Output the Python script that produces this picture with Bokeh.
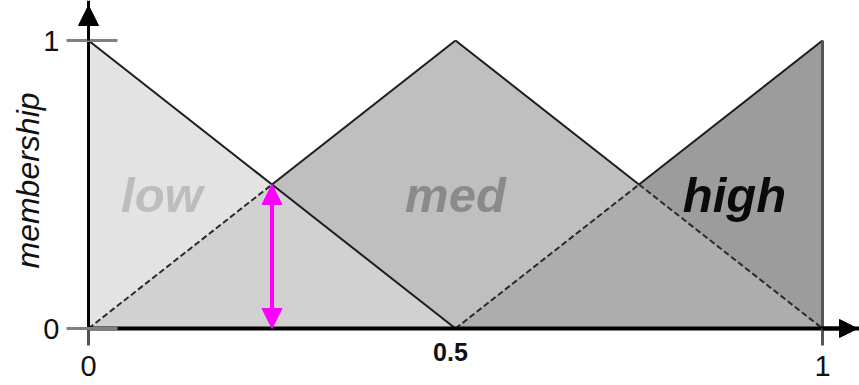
import numpy as np
from bokeh.plotting import figure
from bokeh.models import Range1d, FixedTicker, Arrow, NormalHead, Label, ColumnDataSource
from bokeh.core.properties import value
from bokeh.embed import file_html
from bokeh.resources import INLINE

# ---- data ----
x_points = [0.0, 0.25, 0.5, 0.75, 1.0]
low_break_x = [0.0, 0.5, 1.0]
low_break_y = [1.0, 0.0, 0.0]
med_break_x = [0.0, 0.5, 1.0]
med_break_y = [0.0, 1.0, 0.0]
high_break_x = [0.0, 0.5, 1.0]
high_break_y = [0.0, 0.0, 1.0]
set_names = ["low", "med", "high"]
arrow_x = 0.25
y_ticks = [0, 1]
x_ticks = [0, 1]
x_mid_tick = 0.5

xg = np.array(x_points)
low = np.interp(xg, low_break_x, low_break_y)
med = np.interp(xg, med_break_x, med_break_y)
high = np.interp(xg, high_break_x, high_break_y)
low_med = np.minimum(low, med)
med_high = np.minimum(med, high)

# ---- styles / layout ----
FONT = "Liberation Sans"
W, H = 859, 385
X0_PX, Y0_PX = 88, 328          # pixel position of data origin
SX, SY = 734.0, 288.0           # pixels per data unit
fill_low, fill_med, fill_high = "#e3e3e3", "#bfbfbf", "#9c9c9c"
fill_low_med, fill_med_high = "#d1d1d1", "#adadad"
label_x = [0.10, 0.50, 0.88]
label_y = [0.462, 0.462, 0.462]
label_colors = ["#bdbdbd", "#8a8a8a", "#0a0a0a"]

x_lo, x_hi = -X0_PX / SX, (W - X0_PX) / SX
y_lo, y_hi = -(H - Y0_PX) / SY, Y0_PX / SY

p = figure(width=W, height=H, output_backend="svg", toolbar_location=None,
           x_range=Range1d(x_lo, x_hi), y_range=Range1d(y_lo, y_hi),
           min_border_left=0, min_border_right=0, min_border_top=0, min_border_bottom=0)
p.outline_line_color = None
p.xgrid.visible = False
p.ygrid.visible = False
p.background_fill_color = "white"

# fills
p.varea(x=xg, y1=0, y2=low, fill_color=fill_low)
p.varea(x=xg, y1=0, y2=med, fill_color=fill_med)
p.varea(x=xg, y1=0, y2=high, fill_color=fill_high)
p.varea(x=xg, y1=0, y2=low_med, fill_color=fill_low_med)
p.varea(x=xg, y1=0, y2=med_high, fill_color=fill_med_high)

# outlines: solid where on top, dashed where hidden under another set
def segs(vals, others, masked=True):
    top = vals >= np.maximum.reduce(others) - 1e-9 if masked else np.ones_like(vals, bool)
    solid, dashed = [], []
    for i in range(len(vals) - 1):
        if vals[i] == 0 and vals[i + 1] == 0:
            continue
        seg = (xg[i], vals[i], xg[i + 1], vals[i + 1])
        (solid if (top[i] and top[i + 1]) else dashed).append(seg)
    return solid, dashed

all_solid, all_dashed = [], []
s, d = segs(low, [med, high], masked=False); all_solid += s; all_dashed += d
s, d = segs(med, [low, high]); all_solid += s; all_dashed += d
s, d = segs(high, [low, med]); all_solid += s; all_dashed += d

def seg_source(lst):
    a = np.array(lst)
    return ColumnDataSource(dict(x0=a[:, 0], y0=a[:, 1], x1=a[:, 2], y1=a[:, 3]))

p.segment("x0", "y0", "x1", "y1", source=seg_source(all_solid), line_color="#1c1c1c", line_width=2)
p.segment("x0", "y0", "x1", "y1", source=seg_source(all_dashed), line_color="#2a2a2a", line_width=2,
          line_dash="6 3")
# right edge of "high"
p.segment(x0=[xg[-1]], y0=[0], x1=[xg[-1]], y1=[high[-1]], line_color="#555555", line_width=3)

# set labels
p.text(x=label_x, y=label_y, text=set_names, text_color=label_colors,
       text_font=value(FONT), text_font_style="bold italic", text_font_size="49px",
       text_align="center", text_baseline="alphabetic")

# magenta membership arrow
arrow_y = float(np.interp(arrow_x, xg, low))
p.add_layout(Arrow(start=NormalHead(size=20, fill_color="#ff00ff", line_color="#ff00ff"),
                   end=NormalHead(size=20, fill_color="#ff00ff", line_color="#ff00ff"),
                   x_start=arrow_x, y_start=0.0, x_end=arrow_x, y_end=arrow_y,
                   line_color="#ff00ff", line_width=4))

# axes (fixed at the origin)
ya = p.yaxis[0]
ya.fixed_location = 0
ya.bounds = (0, y_hi)
ya.ticker = FixedTicker(ticks=y_ticks)
ya.axis_line_width = 3
ya.axis_line_color = "black"
ya.major_tick_in = 29
ya.major_tick_out = 22
ya.major_tick_line_color = "#808080"
ya.major_tick_line_width = 3
ya.minor_tick_line_color = None
ya.major_label_text_font = FONT
ya.major_label_text_font_size = "29px"
ya.major_label_text_color = "#111111"
ya.major_label_standoff = 7

xa = p.xaxis[0]
xa.fixed_location = 0
xa.bounds = (0, x_hi)
xa.ticker = FixedTicker(ticks=x_ticks)
xa.axis_line_width = 4
xa.axis_line_color = "black"
xa.major_tick_in = 0
xa.major_tick_out = 17
xa.major_tick_line_color = "#555555"
xa.major_tick_line_width = 3
xa.minor_tick_line_color = None
xa.major_label_text_font = FONT
xa.major_label_text_font_size = "29px"
xa.major_label_text_color = "#111111"
xa.major_label_standoff = 10

# axis arrowheads
p.add_layout(Arrow(end=NormalHead(size=20, fill_color="black", line_color="black"),
                   x_start=0, y_start=1.0, x_end=0, y_end=(Y0_PX - 5) / SY,
                   line_color="black", line_width=3))
p.add_layout(Arrow(end=NormalHead(size=18, fill_color="black", line_color="black"),
                   x_start=1.0, y_start=0, x_end=(857 - X0_PX) / SX, y_end=0,
                   line_color="black", line_width=4))

p.add_layout(Label(x=x_mid_tick, y=-0.083, text="0.5", text_font=FONT, text_font_style="bold",
                   text_font_size="25px", text_align="center", text_baseline="middle",
                   x_offset=-5, text_color="#111111"))
p.add_layout(Label(x=-0.082, y=0.514, text="membership", angle=np.pi / 2, text_font=FONT,
                   text_font_style="italic", text_font_size="32px", text_align="center",
                   text_baseline="middle", text_color="#111111"))

open("out.html", "w").write(file_html(p, INLINE))
